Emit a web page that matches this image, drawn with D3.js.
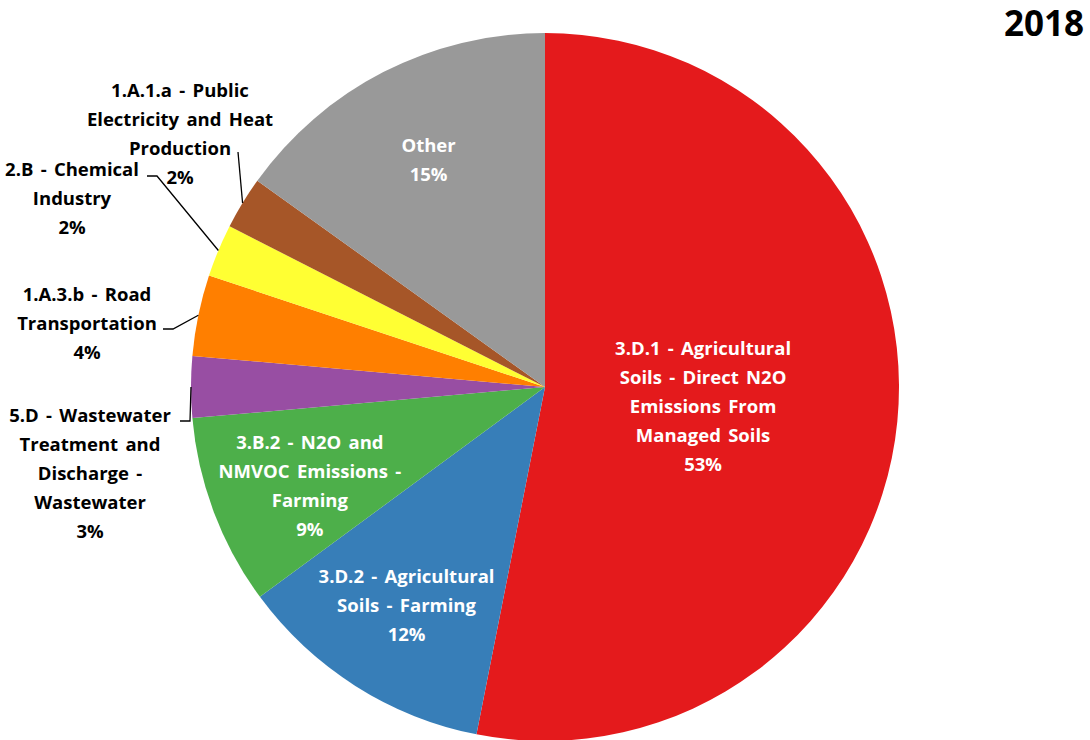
<!DOCTYPE html>
<html><head><meta charset="utf-8">
<script src="https://cdn.jsdelivr.net/npm/d3@7"></script>
<style>body{margin:0;background:#fff}svg{display:block}text{font-family:"Open Sans",Lato,sans-serif;font-weight:bold}</style>
</head><body><svg id="c" width="1090" height="740"></svg>
<script>
const categories = ["3.D.1 - Agricultural Soils - Direct N2O Emissions From Managed Soils","3.D.2 - Agricultural Soils - Farming","3.B.2 - N2O and NMVOC Emissions - Farming","5.D - Wastewater Treatment and Discharge - Wastewater","1.A.3.b - Road Transportation","2.B - Chemical Industry","1.A.1.a - Public Electricity and Heat Production","Other"];
const values = [53.1, 11.8, 8.7, 2.8, 3.7, 2.4, 2.4, 15.1];
const labelLines = [
  ["3.D.1 - Agricultural","Soils - Direct N2O","Emissions From","Managed Soils"],
  ["3.D.2 - Agricultural","Soils - Farming"],
  ["3.B.2 - N2O and","NMVOC Emissions -","Farming"],
  ["5.D - Wastewater","Treatment and","Discharge -","Wastewater"],
  ["1.A.3.b - Road","Transportation"],
  ["2.B - Chemical","Industry"],
  ["1.A.1.a - Public","Electricity and Heat","Production"],
  ["Other"]
];
const colors = ["#E41A1C","#377EB8","#4DAF4A","#984EA3","#FF7F00","#FFFF33","#A65628","#999999"];
const title = "2018";

// layout (not data)
const cx = 545, cy = 387, R = 354, lineH = 29;
const inside = [{r:0.45, da:1.5},{r:0.73},{r:0.72, da:-2},null,null,null,null,{r:0.72}];
const outside = [null,null,null,
  {lx:-455, ly:86, pts:[[-355,34],[-365,34]]},
  {lx:-458, ly:-64, pts:[[-372,-58],[-382,-58]]},
  {lx:-473, ly:-189, pts:[[-388,-211],[-398,-211]]},
  {lx:-365, ly:-253, pts:[[-307,-235]]},
  null];

const svg = d3.select("#c");
const g = svg.append("g").attr("transform",`translate(${cx},${cy})`);
const pie = d3.pie().sort(null).value(d=>d);
const arcs = pie(values);
const arc = d3.arc().innerRadius(0).outerRadius(R);
const total = d3.sum(values);
const pct = v => Math.round(v/total*100) + "%";

g.selectAll("path.slice").data(arcs).join("path").attr("class","slice")
  .attr("d",arc).attr("fill",(d,i)=>colors[i]);

function block(x, y, lines, fill){
  const t = g.append("text").attr("text-anchor","middle").attr("fill",fill)
    .style("font-size","18.5px").style("word-spacing","2.5px");
  const n = lines.length;
  lines.forEach((s,k)=>{
    t.append("tspan").attr("x",x).attr("y", y + (k-(n-1)/2)*lineH).attr("dy","0.36em").text(s);
  });
}

arcs.forEach((a,i)=>{
  const lines = labelLines[i].concat([pct(values[i])]);
  if (inside[i]) {
    const mid = (a.startAngle+a.endAngle)/2 + ((inside[i].da||0)*Math.PI/180);
    const r = inside[i].r*R;
    block(r*Math.sin(mid), -r*Math.cos(mid), lines, "#fff");
  } else {
    const o = outside[i];
    const mid = (a.startAngle+a.endAngle)/2;
    const p0 = [R*Math.sin(mid), -R*Math.cos(mid)];
    g.append("path").attr("d", d3.line()([p0].concat(o.pts))).attr("fill","none").attr("stroke","#000").attr("stroke-width",1.3);
    block(o.lx, o.ly, lines, "#000");
  }
});

svg.append("text").attr("x",1084).attr("y",36).attr("text-anchor","end").style("font-size","35px").attr("fill","#000").text(title);
</script></body></html>
